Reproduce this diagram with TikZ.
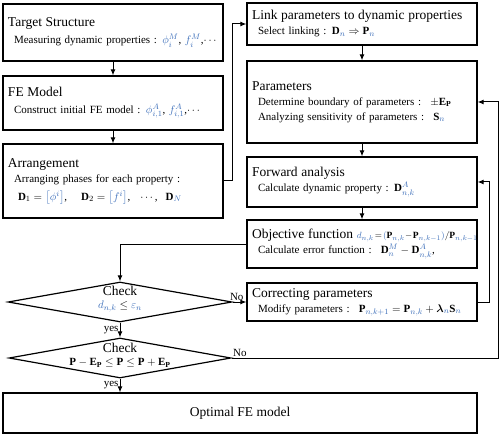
\documentclass[tikz,border=0pt]{standalone}
\usepackage{fontspec}
\setmainfont{Liberation Serif}
\usepackage{amsmath,amssymb}
\usetikzlibrary{arrows.meta,shapes.geometric}
\definecolor{mblue}{RGB}{60,110,185}
\newcommand{\ttl}{\fontsize{13.5}{16}\selectfont}
\newcommand{\vb}[1]{\textcolor{mblue}{#1}}

\begin{document}
\begin{tikzpicture}
  [x=1pt,y=-1pt,
   box/.style={draw,line width=1.3pt,rectangle,align=left,inner sep=5pt,
     font=\fontsize{11}{15}\selectfont},
   lbox/.style={box,minimum width=220pt,text width=210pt},
   rbox/.style={box,minimum width=230pt,text width=220pt},
   chk/.style={diamond,draw,line width=1.2pt,minimum width=224pt,
     minimum height=40pt,inner sep=0pt,aspect=5.6},
   arr/.style={-{Latex[length=6pt,width=5pt]},line width=1pt},
   lab/.style={font=\fontsize{11}{13}\selectfont,inner sep=1pt}]
  \useasboundingbox (0,0) rectangle (500,438);

  % left column
  \node[lbox,minimum height=57pt] (ts) at (113,32.5)
    {{\ttl Target Structure}\\[2pt]
     \mbox{\hspace*{6pt}Measuring dynamic properties : $\vb{\phi_i^M}$, $\vb{f_i^M}$,$\cdots$}};
  \node[lbox,minimum height=54pt] (fe) at (113,103)
    {{\ttl FE Model}\\[2pt]
     \mbox{\hspace*{6pt}Construct initial FE model : $\vb{\phi^A_{i,1}}$, $\vb{f^A_{i,1}}$,$\cdots$}};
  \node[lbox,minimum height=74pt] (ar) at (113,181)
    {{\ttl Arrangement}\\
     \mbox{\hspace*{6pt}Arranging phases for each property :}\\[3pt]
     \mbox{\hspace*{10pt}$\mathbf{D}_1=\vb{\left[\phi^i\right]}$,\hspace{14pt}$\mathbf{D}_2=\vb{\left[f^i\right]}$,\hspace{10pt}$\cdots$,\hspace{8pt}$\mathbf{D}_{\vb{N}}$}};

  % right column
  \node[rbox,minimum height=42pt] (lk) at (362,24)
    {{\ttl Link parameters to dynamic properties}\\
     \mbox{\hspace*{6pt}Select linking : $\mathbf{D}_{\vb{n}}\Rightarrow\mathbf{P}_{\vb{n}}$}};
  \node[rbox,minimum height=82pt] (pa) at (362,102)
    {{\ttl Parameters}\\
     \mbox{\hspace*{6pt}Determine boundary of parameters : \ $\pm\mathbf{E}_\mathbf{P}$}\\
     \mbox{\hspace*{6pt}Analyzing sensitivity of parameters : \ $\mathbf{S}_{\vb{n}}$}};
  \node[rbox,minimum height=50pt] (fw) at (362,182)
    {{\ttl Forward analysis}\\
     \mbox{\hspace*{6pt}Calculate dynamic property : $\mathbf{D}^{\vb{A}}_{\vb{n,k}}$}};
  \node[rbox,minimum height=48pt] (ob) at (362,244)
    {\mbox{{\ttl Objective function} {\fontsize{9.5}{12}\selectfont$\vb{d_{n,k}}\!=\!\vb{(}\mathbf{P}_{\vb{n,k}}\!-\!\mathbf{P}_{\vb{n,k-1}}\vb{)}/\mathbf{P}_{\vb{n,k-1}}$}}\\
     \mbox{\hspace*{6pt}Calculate error function : \ $\mathbf{D}^{\vb{M}}_{\vb{n}}-\mathbf{D}^{\vb{A}}_{\vb{n,k}}$,}};
  \node[rbox,minimum height=38pt] (cp) at (362,302)
    {{\ttl Correcting parameters}\\
     \mbox{\hspace*{6pt}Modify parameters : \ $\mathbf{P}_{\vb{n,k+1}}=\mathbf{P}_{\vb{n,k}}+\boldsymbol{\lambda}_{\vb{n}}\mathbf{S}_{\vb{n}}$}};

  % checks
  \node[chk] (c1) at (120,302) {};
  \node[lab,align=center] (t1) at ([yshift=3pt]c1.center)
    {{\ttl Check}\\ $\vb{d_{n,k}}\le\vb{\varepsilon_n}$};
  \node[chk,minimum width=222pt] (c2) at (120,358) {};
  \node[lab,align=center] (t2) at ([yshift=3pt]c2.center)
    {{\ttl Check}\\ $\mathbf{P}-\mathbf{E}_\mathbf{P}\le\mathbf{P}\le\mathbf{P}+\mathbf{E}_\mathbf{P}$};

  \node[box,minimum width=474pt,minimum height=40pt,align=center,font=\ttl] (op) at (240,413)
    {Optimal FE model};

  \coordinate (rt) at (498,358);

  \foreach \from/\to in {ts/fe,fe/ar,lk/pa,pa/fw,fw/ob}
    \draw[arr] (\from) -- (\to);

  \draw[arr] (ar.east) -- ++(9,0) |- (lk.west);
  \draw[arr] (ob.west) -| (c1.north);
  \draw[arr] (c1.south) -- node[lab,left] {yes} (c2.north);
  \draw[arr] (c2.south) -- node[lab,left] {yes} (c2.south |- op.north);
  \draw[arr] (c1.east) -- node[lab,above,pos=0.3] {No} (cp.west);
  \draw[arr] (c2.east) -- node[lab,above right,pos=0] {No} (rt) |- (pa.east);
  \draw[arr] (cp.east) -- ++(12,0) |- (fw.east);

\end{tikzpicture}
\end{document}
